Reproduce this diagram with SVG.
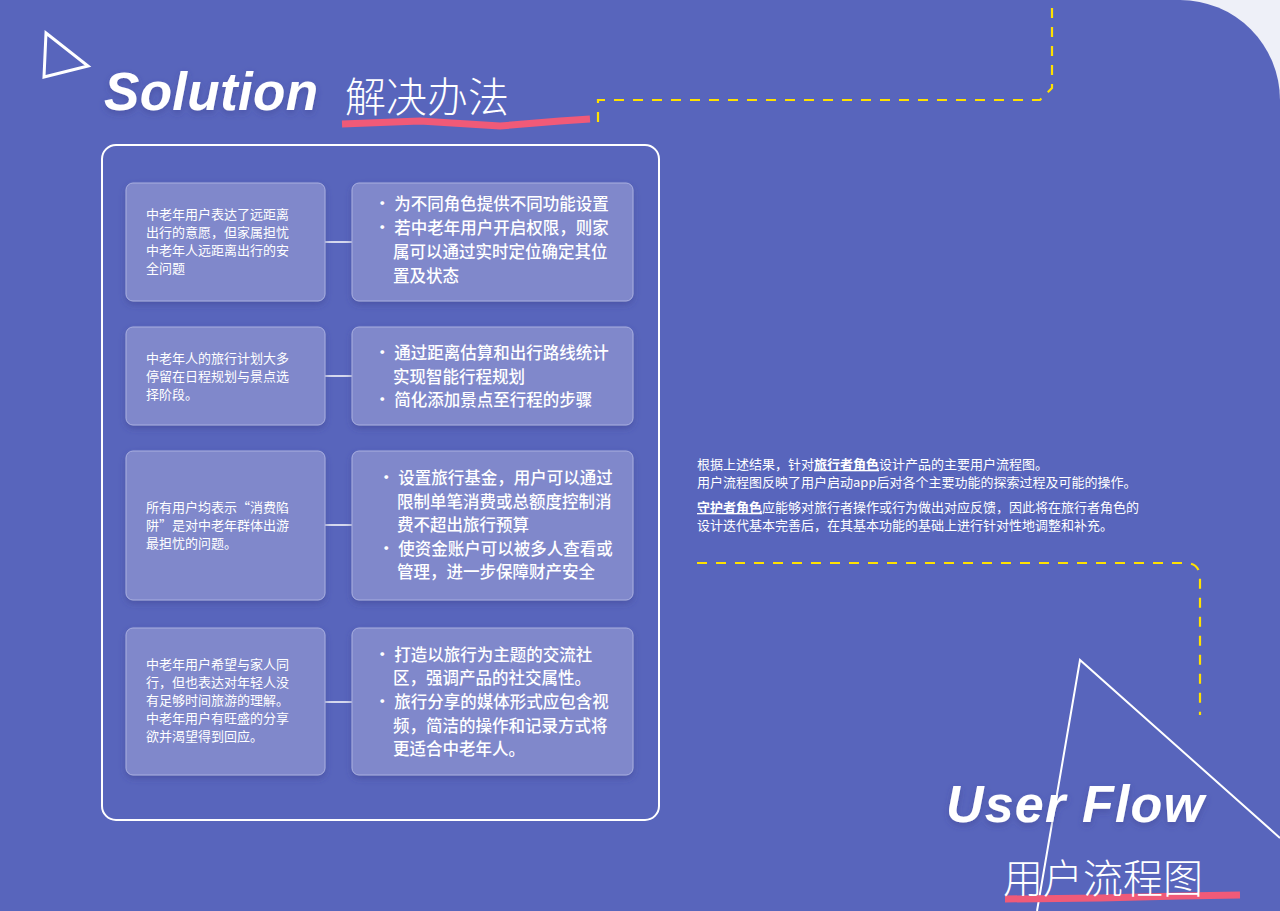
<svg xmlns="http://www.w3.org/2000/svg" width="1280" height="911" viewBox="0 0 1280 911">
<defs>
<style>
.card{fill:#8088CB;stroke:#A9AFE0;stroke-width:1}
.l{font-family:"Noto Sans CJK SC",sans-serif;font-size:13px;fill:#fff}
.r{font-family:"Noto Sans CJK SC",sans-serif;font-size:16.5px;fill:#fff;font-weight:500}
.t{font-family:"Noto Sans CJK SC",sans-serif;font-size:13px;fill:#fff}
.dash{fill:none;stroke:#FFE100;stroke-width:2.2;stroke-dasharray:10,9}
.conn{stroke:#fff;stroke-width:1.5}
</style>
<filter id="sh" x="-10%" y="-10%" width="120%" height="130%"><feDropShadow dx="0" dy="3" stdDeviation="3" flood-color="#3a4390" flood-opacity="0.5"/></filter>
</defs>
<rect width="1280" height="911" fill="#EEF0F8"/>
<path d="M0 0H1180A100 100 0 0 1 1280 100V911H0Z" fill="#5865BC"/>
<polygon points="46,33 88,66 44,77" fill="none" stroke="#fff" stroke-width="3"/>
<path d="M342 124 L420 121 L500 126 L560 121 L590 119" stroke="#F05A78" stroke-width="7" fill="none"/>
<text x="104" y="110" font-family="Liberation Sans,Arial,sans-serif" font-size="53" font-weight="bold" font-style="italic" fill="#fff" filter="url(#sh)" textLength="214">Solution</text>
<text x="345" y="112" font-family="Noto Sans CJK SC,sans-serif" font-size="41" font-weight="300" fill="#fff">解决办法</text>
<path class="dash" d="M598 122 V100 H1040 L1052 88 V0"/>
<path class="dash" d="M697 563 H1185 Q1200 563 1200 578 V715"/>
<polyline points="1037,911 1080,660 1280,838" fill="none" stroke="#fff" stroke-width="2"/>
<path d="M1005 899 L1100 898 L1180 896 L1240 895" stroke="#F05A78" stroke-width="7" fill="none"/>
<text x="946" y="822" font-family="Liberation Sans,Arial,sans-serif" font-size="52" font-weight="bold" font-style="italic" fill="#fff" filter="url(#sh)" textLength="258">User Flow</text>
<text x="1003" y="893" font-family="Noto Sans CJK SC,sans-serif" font-size="40" font-weight="300" fill="#fff">用户流程图</text>
<g id="intro">
<text class="t" x="697" y="469">根据上述结果，针对<tspan font-weight="bold" text-decoration="underline">旅行者角色</tspan>设计产品的主要用户流程图。</text>
<text class="t" x="697" y="487">用户流程图反映了用户启动app后对各个主要功能的探索过程及可能的操作。</text>
<text class="t" x="697" y="512"><tspan font-weight="bold" text-decoration="underline">守护者角色</tspan>应能够对旅行者操作或行为做出对应反馈，因此将在旅行者角色的</text>
<text class="t" x="697" y="530">设计迭代基本完善后，在其基本功能的基础上进行针对性地调整和补充。</text>
</g>
<rect id="panel" x="102" y="145" width="557" height="675" rx="14" fill="none" stroke="#fff" stroke-width="2"/>
<g id="connectors">
<line class="conn" x1="325" y1="242" x2="352" y2="242"/>
<line class="conn" x1="325" y1="376" x2="352" y2="376"/>
<line class="conn" x1="325" y1="525" x2="352" y2="525"/>
<line class="conn" x1="325" y1="702" x2="352" y2="702"/>
</g>
<g id="p1"><rect class="card" x="126" y="183" width="199" height="118" rx="7" filter="url(#sh)"/>
<text class="l" x="146" y="219">中老年用户表达了远距离</text><text class="l" x="146" y="237">出行的意愿，但家属担忧</text><text class="l" x="146" y="255">中老年人远距离出行的安</text><text class="l" x="146" y="273">全问题</text></g>
<g id="s1"><rect class="card" x="352" y="183" width="281" height="118" rx="7" filter="url(#sh)"/>
<text class="r" x="374" y="210">•  为不同角色提供不同功能设置</text><text class="r" x="374" y="234">•  若中老年用户开启权限，则家</text><text class="r" x="393" y="258">属可以通过实时定位确定其位</text><text class="r" x="393" y="282">置及状态</text></g>
<g id="p2"><rect class="card" x="126" y="327" width="199" height="98" rx="7" filter="url(#sh)"/>
<text class="l" x="146" y="363">中老年人的旅行计划大多</text><text class="l" x="146" y="381">停留在日程规划与景点选</text><text class="l" x="146" y="399">择阶段。</text></g>
<g id="s2"><rect class="card" x="352" y="327" width="281" height="98" rx="7" filter="url(#sh)"/>
<text class="r" x="374" y="359">•  通过距离估算和出行路线统计</text><text class="r" x="393" y="383">实现智能行程规划</text><text class="r" x="374" y="406">•  简化添加景点至行程的步骤</text></g>
<g id="p3"><rect class="card" x="126" y="451" width="199" height="149" rx="7" filter="url(#sh)"/>
<text class="l" x="146" y="512">所有用户均表示“消费陷</text><text class="l" x="146" y="530">阱”是对中老年群体出游</text><text class="l" x="146" y="548">最担忧的问题。</text></g>
<g id="s3"><rect class="card" x="352" y="451" width="281" height="149" rx="7" filter="url(#sh)"/>
<text class="r" x="378" y="484">•  设置旅行基金，用户可以通过</text><text class="r" x="397" y="508">限制单笔消费或总额度控制消</text><text class="r" x="397" y="531">费不超出旅行预算</text><text class="r" x="378" y="555">•  使资金账户可以被多人查看或</text><text class="r" x="397" y="578">管理，进一步保障财产安全</text></g>
<g id="p4"><rect class="card" x="126" y="628" width="199" height="147" rx="7" filter="url(#sh)"/>
<text class="l" x="146" y="669">中老年用户希望与家人同</text><text class="l" x="146" y="687">行，但也表达对年轻人没</text><text class="l" x="146" y="705">有足够时间旅游的理解。</text><text class="l" x="146" y="723">中老年用户有旺盛的分享</text><text class="l" x="146" y="741">欲并渴望得到回应。</text></g>
<g id="s4"><rect class="card" x="352" y="628" width="281" height="147" rx="7" filter="url(#sh)"/>
<text class="r" x="374" y="661">•  打造以旅行为主题的交流社</text><text class="r" x="393" y="684">区，强调产品的社交属性。</text><text class="r" x="374" y="708">•  旅行分享的媒体形式应包含视</text><text class="r" x="393" y="732">频，简洁的操作和记录方式将</text><text class="r" x="393" y="755">更适合中老年人。</text></g>
</svg>
